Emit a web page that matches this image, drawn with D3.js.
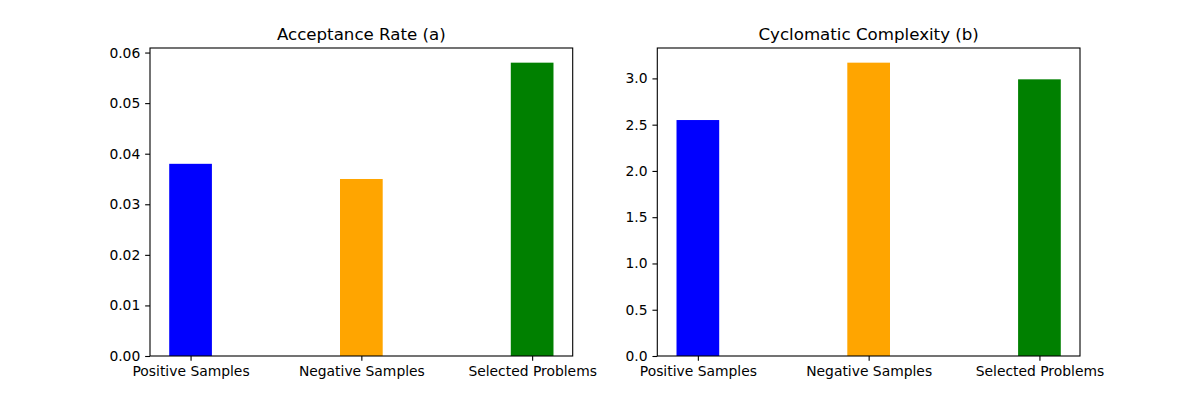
<!DOCTYPE html>
<html><head><meta charset="utf-8">
<script src="https://cdn.jsdelivr.net/npm/d3@7"></script>
<style>body{margin:0;background:#fff}svg{display:block}text{font-family:"DejaVu Sans",sans-serif;fill:#000}</style>
</head><body>
<script>
const categories = ["Positive Samples", "Negative Samples", "Selected Problems"];
const barColors = ["blue", "orange", "green"];
const acceptanceRate = [0.038, 0.035, 0.058];
const cyclomatic = [2.55, 3.17, 2.99];
const ticksA = [0, 0.01, 0.02, 0.03, 0.04, 0.05, 0.06];
const ticksB = [0, 0.5, 1.0, 1.5, 2.0, 2.5, 3.0];
const panels = [
  {title: "Acceptance Rate (a)", values: acceptanceRate, ticks: ticksA, fmt: d3.format(".2f"), left: 150},
  {title: "Cyclomatic Complexity (b)", values: cyclomatic, ticks: ticksB, fmt: d3.format(".1f"), left: 657.3}
];
const W = 1200, H = 400, plotTop = 48, plotBottom = 356, pw = 422.7, barW = 0.25;
const svg = d3.select("body").append("svg").attr("width", W).attr("height", H);
panels.forEach(p => {
  const g = svg.append("g");
  const x = d3.scaleLinear().domain([-0.2375, 2.2375]).range([p.left, p.left + pw]);
  const ymax = d3.max(p.values) * 1.05;
  const y = d3.scaleLinear().domain([0, ymax]).range([plotBottom, plotTop]);
  g.selectAll("rect.bar").data(p.values).join("rect")
    .attr("x", (d, i) => x(i - barW / 2)).attr("width", (d, i) => x(i + barW / 2) - x(i - barW / 2))
    .attr("y", d => y(d)).attr("height", d => y(0) - y(d))
    .attr("fill", (d, i) => barColors[i]);
  const xa = d3.axisBottom(x).tickValues([0, 1, 2]).tickFormat(i => categories[i]).tickSize(4.86).tickPadding(4.86).tickSizeOuter(0);
  const xg = g.append("g").attr("transform", `translate(0,${plotBottom})`).call(xa);
  xg.select(".domain").remove();
  xg.selectAll("text").attr("font-size", 13.89).attr("font-family", "DejaVu Sans").attr("fill", "#000");
  xg.selectAll("line").attr("stroke", "#000").attr("stroke-width", 1.1);
  const ya = d3.axisLeft(y).tickValues(p.ticks).tickFormat(p.fmt).tickSize(4.86).tickPadding(4.86).tickSizeOuter(0);
  const yg = g.append("g").attr("transform", `translate(${p.left},0)`).call(ya);
  yg.select(".domain").remove();
  yg.selectAll("text").attr("font-size", 13.89).attr("font-family", "DejaVu Sans").attr("fill", "#000");
  yg.selectAll("line").attr("stroke", "#000").attr("stroke-width", 1.1);
  g.append("rect").attr("x", p.left).attr("y", plotTop).attr("width", pw).attr("height", plotBottom - plotTop)
    .attr("fill", "none").attr("stroke", "#000").attr("stroke-width", 1.1);
  g.append("text").attr("x", p.left + pw / 2).attr("y", plotTop - 8.33).attr("text-anchor", "middle")
    .attr("font-size", 16.67).text(p.title);
});
</script>
</body></html>
